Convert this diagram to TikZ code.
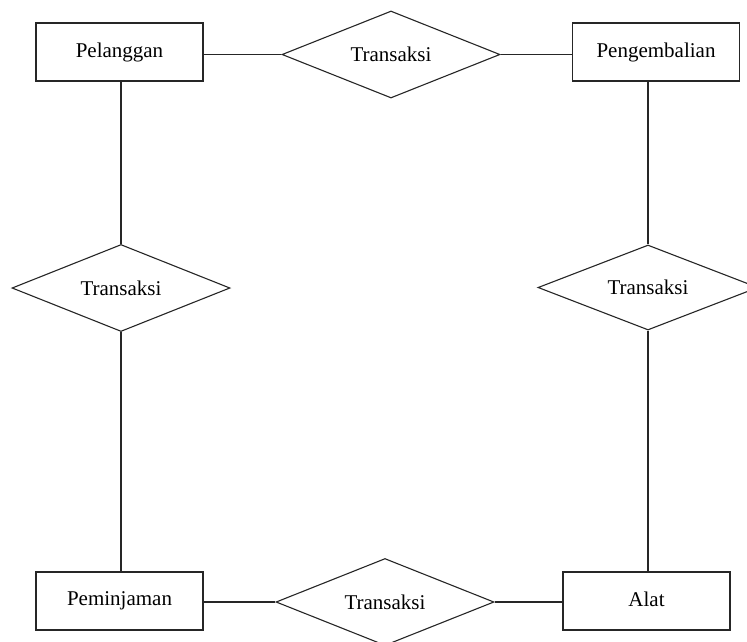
\documentclass[tikz,border=0pt]{standalone}
\usepackage{fontspec}
\setmainfont{Liberation Serif}
\usetikzlibrary{shapes.geometric}
\begin{document}
\begin{tikzpicture}[x=1pt,y=-1pt,
  line width=1.1pt,
  entity/.style={draw=black!85, rectangle, minimum width=167pt, minimum height=58pt,
    inner sep=0pt, font=\fontsize{21}{24}\selectfont},
  relation/.style={draw=black!85, diamond, minimum width=218pt, minimum height=87pt,
    inner sep=0pt, label={[font=\fontsize{21}{24}\selectfont]center:#1}},
  link/.style={draw=black!85}]
  \useasboundingbox (0,0) rectangle (747,641);
  \clip (0,0) rectangle (747,641);
  \fill[white] (0,0) rectangle (747,641);

  % entities
  \node[entity] (pelanggan)    at (119.5,52)  {\raisebox{4pt}{Pelanggan}};
  \node[entity] (pengembalian) at (656,52)    {\raisebox{4pt}{Pengembalian}};
  \node[entity] (peminjaman)   at (119.5,601) {\raisebox{3pt}{Peminjaman}};
  \node[entity] (alat)         at (646.5,601) {\raisebox{3pt}{Alat}};

  % relationships
  \node[relation=Transaksi] (rtop)    at (391,54.5) {};
  \node[relation=Transaksi] (rleft)   at (121,288)  {};
  \node[relation=Transaksi, minimum width=220pt, minimum height=85pt] (rright) at (648,287.5) {};
  \node[relation=Transaksi] (rbottom) at (385,602)  {};

  % connectors
  \draw[link] (rtop.west -| pelanggan.east) -- (rtop.west);
  \draw[link] (rtop.east) -- (rtop.east -| pengembalian.west);
  \draw[link] (rleft.north |- pelanggan.south) -- (rleft.north);
  \draw[link] (rleft.south) -- (rleft.south |- peminjaman.north);
  \draw[link] (rright.north |- pengembalian.south) -- (rright.north);
  \draw[link] (rright.south) -- (rright.south |- alat.north);
  \draw[link] (rbottom.west -| peminjaman.east) -- (rbottom.west);
  \draw[link] (rbottom.east) -- (rbottom.east -| alat.west);
\end{tikzpicture}
\end{document}
